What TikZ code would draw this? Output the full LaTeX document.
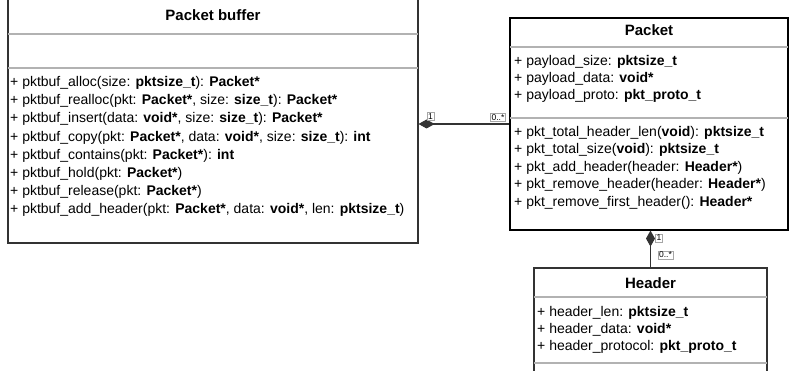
\documentclass[tikz,border=0pt]{standalone}
\usepackage{fontspec}
\setmainfont{Liberation Sans}
\usetikzlibrary{arrows.meta,positioning}

\begin{document}
\begin{tikzpicture}[x=1pt, y=-1pt,
    box/.style={draw=black!80, line width=1.1pt, inner sep=0pt},
    sep/.style={draw=black!30, line width=1.2pt},
    title/.style={font=\fontsize{15}{17}\selectfont\bfseries},
    body/.style={font=\fontsize{14}{18}\selectfont, align=left, inner sep=0pt, anchor=base west},
    mult/.style={draw=black!35, line width=0.4pt, font=\fontsize{8.5}{9}\selectfont, inner sep=1pt, fill=white},
    comp/.style={{Diamond[length=16pt,width=9pt]}-, line width=1.1pt, draw=black!80}
]
\useasboundingbox (0,0) rectangle (789,371);
\clip (0,0) rectangle (789,371);

% Packet buffer
\node[box, minimum width=410pt, minimum height=246pt] (buf) at (213,120) {};
\node[title] (buftitle) at (213,15) {Packet buffer};
\draw[sep] (8,34) -- (418,34);
\draw[sep] (8,68) -- (418,68);
\node[body, font=\fontsize{14}{18.2}\selectfont] (bufops) at (10,213.9) {%
+ pktbuf\_alloc(size: \textbf{pktsize\_t}): \textbf{Packet*}\\
+ pktbuf\_realloc(pkt: \textbf{Packet*}, size: \textbf{size\_t}): \textbf{Packet*}\\
+ pktbuf\_insert(data: \textbf{void*}, size: \textbf{size\_t}): \textbf{Packet*}\\
+ pktbuf\_copy(pkt: \textbf{Packet*}, data: \textbf{void*}, size: \textbf{size\_t}): \textbf{int}\\
+ pktbuf\_contains(pkt: \textbf{Packet*}): \textbf{int}\\
+ pktbuf\_hold(pkt: \textbf{Packet*})\\
+ pktbuf\_release(pkt: \textbf{Packet*})\\
+ pktbuf\_add\_header(pkt: \textbf{Packet*}, data: \textbf{void*}, len: \textbf{pktsize\_t})};

% Packet
\node[box, draw=black, minimum width=278pt, minimum height=212pt] (pkt) at (649,124) {};
\node[title] (pkttitle) at (649,30) {Packet};
\draw[sep] (510,47) -- (788,47);
\draw[sep] (510,118) -- (788,118);
\node[body, font=\fontsize{14}{17}\selectfont] (pktattr) at (514,99.5) {%
+ payload\_size: \textbf{pktsize\_t}\\
+ payload\_data: \textbf{void*}\\
+ payload\_proto: \textbf{pkt\_proto\_t}};
\node[body, font=\fontsize{14}{17.5}\selectfont] (pktops) at (514,206.5) {%
+ pkt\_total\_header\_len(\textbf{void}): \textbf{pktsize\_t}\\
+ pkt\_total\_size(\textbf{void}): \textbf{pktsize\_t}\\
+ pkt\_add\_header(header: \textbf{Header*})\\
+ pkt\_remove\_header(header: \textbf{Header*})\\
+ pkt\_remove\_first\_header(): \textbf{Header*}};

% Header
\node[box, minimum width=233pt, minimum height=112pt] (hdr) at (650.5,324) {};
\node[title] (hdrtitle) at (650.5,283) {Header};
\draw[sep] (534,297) -- (767,297);
\draw[sep] (534,363) -- (767,363);
\node[body, font=\fontsize{14}{17}\selectfont] (hdrattr) at (537,350.5) {%
+ header\_len: \textbf{pktsize\_t}\\
+ header\_data: \textbf{void*}\\
+ header\_protocol: \textbf{pkt\_proto\_t}};

% compositions
\draw[comp] (buf.east |- pkt.west) -- (pkt.west);
\draw[comp] (pkt.south -| hdr.north) -- (hdr.north);
\node[mult] (m1) at (430.5,116.5) {1};
\node[mult] (m2) at (498,117.5) {0..*};
\node[mult] (m3) at (659,238) {1};
\node[mult] (m4) at (665.5,255) {0..*};
\end{tikzpicture}
\end{document}
